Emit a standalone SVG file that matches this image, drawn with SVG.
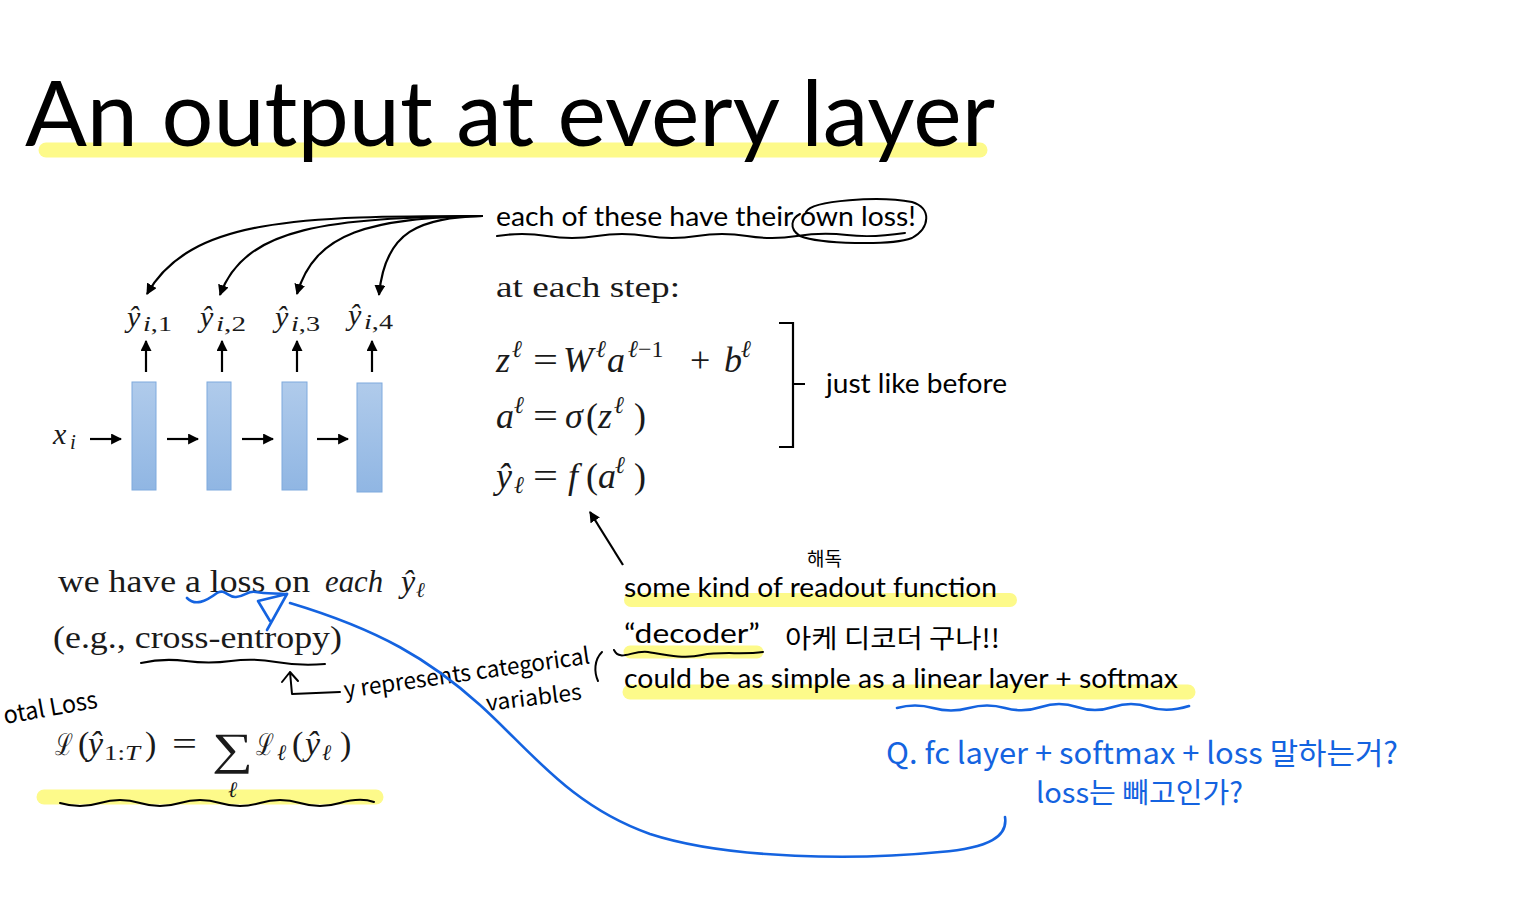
<svg xmlns="http://www.w3.org/2000/svg" width="1536" height="914" viewBox="0 0 1536 914">
<style>
.cal{font-family:Lato,"Noto Sans",sans-serif;fill:#000}
.m{font-family:"Liberation Serif","DejaVu Serif",serif;fill:#1a1a1a}
.mi{font-family:"Liberation Serif","DejaVu Serif",serif;font-style:italic;fill:#1a1a1a}
.hw{font-family:"Noto Sans CJK KR","Noto Sans",sans-serif;fill:#000}
.hb{font-family:"Noto Sans CJK KR","Noto Sans",sans-serif;fill:#1463e0}
.hl{stroke:#fdfa8a;stroke-linecap:round;fill:none}
.ink{stroke:#000;fill:none;stroke-width:2;stroke-linecap:round;stroke-linejoin:round}
.blue{stroke:#1463e0;fill:none;stroke-width:2.6;stroke-linecap:round;stroke-linejoin:round}
.conn{stroke:#000;fill:none;stroke-width:2.2}
.layer{fill:url(#g);stroke:#7eaade;stroke-width:1}
</style>
<defs>
<linearGradient id="g" x1="0" y1="0" x2="0" y2="1"><stop offset="0" stop-color="#b0cbeb"/><stop offset="1" stop-color="#90b6e3"/></linearGradient>
<marker id="ah" viewBox="0 0 10 10" refX="9" refY="5" markerWidth="5" markerHeight="5" orient="auto" markerUnits="strokeWidth"><path d="M0,0 L10,5 L0,10 Z" fill="#000"/></marker>
</defs>
<rect width="1536" height="914" fill="#fff"/>

<g id="highlights">
<line class="hl" x1="46" y1="150" x2="980" y2="150" stroke-width="15"/>
<line class="hl" x1="631" y1="600" x2="1010" y2="600" stroke-width="14"/>
<line class="hl" x1="630" y1="652" x2="757" y2="652" stroke-width="13"/>
<line class="hl" x1="630" y1="692" x2="1188" y2="692" stroke-width="15"/>
<line class="hl" x1="44" y1="797" x2="376" y2="797" stroke-width="15"/>
</g>

<g id="title"><text class="cal" x="25" y="146" font-size="92" textLength="970" lengthAdjust="spacingAndGlyphs">An output at every layer</text></g>

<g id="x-input"><text class="mi" x="53" y="444" font-size="30">x</text><text class="mi" x="70" y="449" font-size="21">i</text></g>
<g id="layer1"><rect class="layer" x="132" y="382" width="24" height="108"/></g>
<g id="layer2"><rect class="layer" x="207" y="382" width="24" height="108"/></g>
<g id="layer3"><rect class="layer" x="282" y="382" width="25" height="108"/></g>
<g id="layer4"><rect class="layer" x="357" y="383" width="25" height="109"/></g>
<g id="out1"><text class="mi" x="127" y="327" font-size="30">ŷ</text><text class="mi" x="143" y="331" font-size="20" textLength="29" lengthAdjust="spacingAndGlyphs">i<tspan class="m" font-style="normal">,1</tspan></text></g>
<g id="out2"><text class="mi" x="200" y="327" font-size="30">ŷ</text><text class="mi" x="216" y="331" font-size="20" textLength="30" lengthAdjust="spacingAndGlyphs">i<tspan class="m" font-style="normal">,2</tspan></text></g>
<g id="out3"><text class="mi" x="275" y="327" font-size="30">ŷ</text><text class="mi" x="291" y="331" font-size="20" textLength="29" lengthAdjust="spacingAndGlyphs">i<tspan class="m" font-style="normal">,3</tspan></text></g>
<g id="out4"><text class="mi" x="348" y="325" font-size="30">ŷ</text><text class="mi" x="364" y="329" font-size="20" textLength="29" lengthAdjust="spacingAndGlyphs">i<tspan class="m" font-style="normal">,4</tspan></text></g>

<g id="connectors">
<line class="conn" x1="90" y1="439" x2="121" y2="439" marker-end="url(#ah)"/>
<line class="conn" x1="167" y1="439" x2="198" y2="439" marker-end="url(#ah)"/>
<line class="conn" x1="242" y1="439" x2="273" y2="439" marker-end="url(#ah)"/>
<line class="conn" x1="317" y1="439" x2="348" y2="439" marker-end="url(#ah)"/>
<line class="conn" x1="146" y1="372" x2="146" y2="341" marker-end="url(#ah)"/>
<line class="conn" x1="222" y1="372" x2="222" y2="341" marker-end="url(#ah)"/>
<line class="conn" x1="297" y1="372" x2="297" y2="341" marker-end="url(#ah)"/>
<line class="conn" x1="372" y1="372" x2="372" y2="341" marker-end="url(#ah)"/>
<path class="conn" d="M483,216 C 300,216 190,218 147,294" marker-end="url(#ah)"/>
<path class="conn" d="M483,216 C 330,218 245,226 220,295" marker-end="url(#ah)"/>
<path class="conn" d="M483,216 C 370,218 315,232 297,294" marker-end="url(#ah)"/>
<path class="conn" d="M483,216 C 420,218 385,230 379,295" marker-end="url(#ah)"/>
<line class="conn" x1="623" y1="565" x2="590" y2="512" marker-end="url(#ah)"/>
</g>

<g id="own-loss">
<text class="cal" x="496" y="226" font-size="26" textLength="420" lengthAdjust="spacingAndGlyphs">each of these have their own loss!</text>
<path class="ink" d="M497,236 q25,-4 50,0 t50,0 t50,0 t50,0 t50,0 t50,0 t50,-1 t58,-2"/>
<path class="ink" d="M806,212 C 812,200 880,196 912,202 C 932,208 930,228 912,238 C 890,246 820,244 800,236 C 788,228 792,218 800,214"/>
</g>
<g id="step"><text class="m" x="496" y="297" font-size="29" textLength="184" lengthAdjust="spacingAndGlyphs">at each step:</text></g>
<g id="eq1">
<text class="mi" x="496" y="372" font-size="36">z</text><text class="mi" x="512" y="357" font-size="24">ℓ</text>
<text class="m" x="533" y="372" font-size="36" textLength="25" lengthAdjust="spacingAndGlyphs">=</text>
<text class="mi" x="563" y="372" font-size="36">W</text><text class="mi" x="596" y="357" font-size="24">ℓ</text>
<text class="mi" x="607" y="372" font-size="36">a</text><text class="mi" x="628" y="357" font-size="24">ℓ<tspan class="m" font-style="normal">−1</tspan></text>
<text class="m" x="690" y="372" font-size="36">+</text>
<text class="mi" x="724" y="372" font-size="36">b</text><text class="mi" x="741" y="357" font-size="24">ℓ</text>
</g>
<g id="eq2">
<text class="mi" x="496" y="428" font-size="36">a</text><text class="mi" x="514" y="413" font-size="24">ℓ</text>
<text class="m" x="533" y="428" font-size="36" textLength="25" lengthAdjust="spacingAndGlyphs">=</text>
<text class="mi" x="565" y="428" font-size="36">σ</text><text class="m" x="586" y="428" font-size="36">(</text>
<text class="mi" x="598" y="428" font-size="36">z</text><text class="mi" x="614" y="413" font-size="24">ℓ</text>
<text class="m" x="634" y="428" font-size="36">)</text>
</g>
<g id="eq3">
<text class="mi" x="496" y="488" font-size="36">ŷ</text><text class="mi" x="514" y="493" font-size="24">ℓ</text>
<text class="m" x="533" y="488" font-size="36" textLength="25" lengthAdjust="spacingAndGlyphs">=</text>
<text class="mi" x="568" y="488" font-size="36">f</text><text class="m" x="586" y="488" font-size="36">(</text>
<text class="mi" x="598" y="488" font-size="36">a</text><text class="mi" x="615" y="473" font-size="24">ℓ</text>
<text class="m" x="634" y="488" font-size="36">)</text>
</g>
<g id="bracket">
<path class="conn" d="M779,323 L793,323 L793,447 L779,447 M793,384 L805,384"/>
<text class="cal" x="826" y="393" font-size="26" textLength="181" lengthAdjust="spacingAndGlyphs">just like before</text>
</g>

<g id="readout">
<text class="hw" x="807" y="566" font-size="19">해독</text>
<text class="cal" x="624" y="597" font-size="26" textLength="373" lengthAdjust="spacingAndGlyphs">some kind of readout function</text>
<text class="cal" x="624" y="643" font-size="26" textLength="136" lengthAdjust="spacingAndGlyphs">“decoder”</text>
<path class="ink" d="M614,650 C 620,662 632,650 648,652 C 666,655 684,659 702,655 C 722,651 742,655 763,652"/>
<text class="hw" x="785" y="648" font-size="26" textLength="215" lengthAdjust="spacingAndGlyphs">아케 디코더 구나!!</text>
<text class="cal" x="624" y="688" font-size="26" textLength="554" lengthAdjust="spacingAndGlyphs">could be as simple as a linear layer + softmax</text>
</g>

<g id="loss-each">
<text class="m" x="58" y="592" font-size="32" textLength="252" lengthAdjust="spacingAndGlyphs">we have a loss on</text>
<text class="mi" x="325" y="592" font-size="32" textLength="58" lengthAdjust="spacingAndGlyphs">each</text>
<text class="mi" x="401" y="592" font-size="32">ŷ</text><text class="mi" x="416" y="597" font-size="21">ℓ</text>
</g>
<g id="cross-entropy">
<text class="m" x="53" y="648" font-size="32" textLength="289" lengthAdjust="spacingAndGlyphs">(e.g., cross-entropy)</text>
<path class="ink" d="M141,663 q22,-5 45,-2 t45,0 t45,1 t49,2"/>
<path class="ink" d="M340,692 L292,694 L290,672 M282,682 L290,672 L298,681"/>
<text class="hw" x="345" y="698" font-size="23" transform="rotate(-8 345 698)" textLength="248" lengthAdjust="spacingAndGlyphs">y represents categorical</text>
<path class="ink" d="M602,652 C 594,660 594,672 598,681"/>
<text class="hw" x="487" y="711" font-size="22" transform="rotate(-7 487 711)" textLength="96" lengthAdjust="spacingAndGlyphs">variables</text>
</g>
<g id="total-loss">
<text class="hw" x="5" y="724" font-size="24" transform="rotate(-10 5 724)" textLength="95" lengthAdjust="spacingAndGlyphs">otal Loss</text>
<text class="m" x="55" y="755" font-size="30" textLength="18" lengthAdjust="spacingAndGlyphs">ℒ</text><text class="m" x="78" y="755" font-size="34">(</text>
<text class="mi" x="88" y="755" font-size="34">ŷ</text><text class="m" x="104" y="760" font-size="22" textLength="36" lengthAdjust="spacingAndGlyphs">1:<tspan class="mi">T</tspan></text>
<text class="m" x="145" y="755" font-size="34">)</text>
<text class="m" x="172" y="755" font-size="34" textLength="25" lengthAdjust="spacingAndGlyphs">=</text>
<text class="m" x="212" y="764" font-size="45" textLength="41" lengthAdjust="spacingAndGlyphs">∑</text>
<text class="mi" x="228" y="797" font-size="22">ℓ</text>
<text class="m" x="256" y="755" font-size="30" textLength="18" lengthAdjust="spacingAndGlyphs">ℒ</text><text class="mi" x="277" y="760" font-size="22">ℓ</text>
<text class="m" x="292" y="755" font-size="34">(</text>
<text class="mi" x="305" y="755" font-size="34">ŷ</text><text class="mi" x="322" y="760" font-size="22">ℓ</text>
<text class="m" x="340" y="755" font-size="34">)</text>
<path class="ink" d="M60,803 q20,6 40,0 t40,0 t40,0 t40,0 t40,0 t40,0 t40,0 t34,-1"/>
</g>

<g id="blue-notes">
<path class="blue" d="M897,708 q18,-5 36,0 t36,0 t36,0 t36,-1 t36,0 t36,0 t36,0 t40,-1"/>
<text class="hb" x="886" y="764" font-size="30" textLength="512" lengthAdjust="spacingAndGlyphs">Q. fc layer + softmax + loss 말하는거?</text>
<text class="hb" x="1036" y="803" font-size="28" textLength="207" lengthAdjust="spacingAndGlyphs">loss는 빼고인가?</text>
<path class="blue" d="M1005,817 C 1008,836 990,848 940,852 C 860,860 730,860 650,834 C 570,806 530,750 480,705 C 430,660 380,630 290,603"/>
<path class="blue" d="M267,630 L287,594 L258,601 L270,621"/>
<path class="blue" d="M187,598 C 195,606 205,602 217,593 C 225,588 228,598 236,597 C 246,596 248,590 256,592 C 266,594 276,593 287,594"/>
</g>
</svg>
